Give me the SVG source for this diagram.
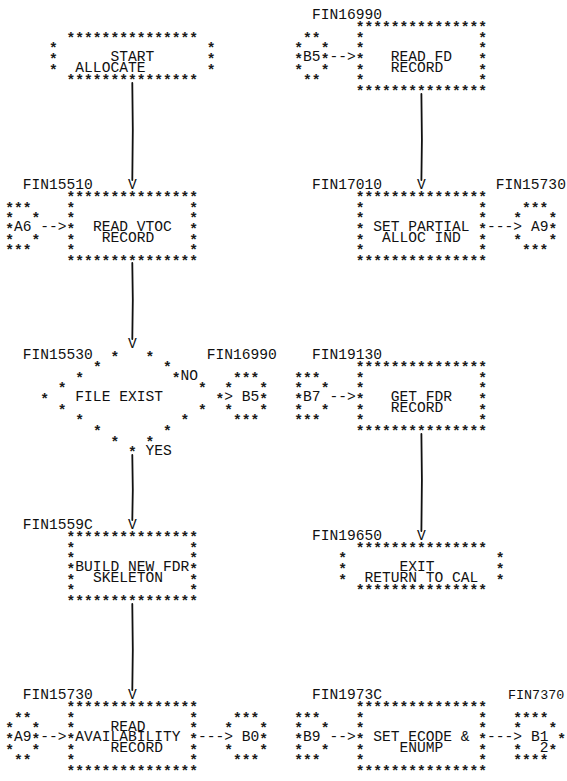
<svg xmlns="http://www.w3.org/2000/svg" width="567" height="781" viewBox="0 0 567 781">
<style>
text{font-family:"Liberation Mono","DejaVu Sans Mono",monospace;font-size:14.6px}
.t{fill:#111}
.s{fill:#1a1a1a;font-weight:bold}
.ln{stroke:#111;stroke-width:1.8;fill:none;stroke-linecap:round}
</style>
<rect width="567" height="781" fill="#fff"/>
<g id="connectors">
<path class="ln" d="M132.3 83 L132.8 130 L132.3 180"/>
<path class="ln" d="M132.3 263 L132.8 300 L132.3 339"/>
<path class="ln" d="M132.3 455 L132.8 490 L132.3 520"/>
<path class="ln" d="M132.3 604 L132.8 650 L132.3 690"/>
<path class="ln" d="M421.4 94 L421.9 140 L421.4 180"/>
<path class="ln" d="M421.4 434 L421.9 480 L421.4 531"/>
<text class="t" x="127.92" y="188.88">V</text>
<text class="t" x="127.92" y="348.25">V</text>
<text class="t" x="127.92" y="528.88">V</text>
<text class="t" x="127.92" y="698.88">V</text>
<text class="t" x="417" y="188.88">V</text>
<text class="t" x="417" y="539.5">V</text>
<text class="t" x="40.32" y="231.38">--&gt;</text>
<text class="t" x="40.32" y="741.38">--&gt;</text>
<text class="t" x="198" y="741.38">---&gt;</text>
<text class="t" x="224.28" y="401.38">&gt;</text>
<text class="t" x="329.4" y="61.38">--&gt;</text>
<text class="t" x="329.4" y="401.38">--&gt;</text>
<text class="t" x="329.4" y="741.38">--&gt;</text>
<text class="t" x="487.08" y="231.38">---&gt;</text>
<text class="t" x="487.08" y="741.38">---&gt;</text>
</g>
<g id="start">
<text class="s" x="66.6" y="42.83">***************</text>
<text class="s" x="49.08" y="53.45">*</text><text class="s" x="206.76" y="53.45">*</text>
<text class="s" x="49.08" y="64.08">*</text><text class="s" x="206.76" y="64.08">*</text>
<text class="s" x="49.08" y="74.7">*</text><text class="s" x="206.76" y="74.7">*</text>
<text class="s" x="66.6" y="85.33">***************</text>
<text class="t" x="110.4" y="61.38">START</text>
<text class="t" x="75.36" y="72">ALLOCATE</text>
</g>
<g id="read_vtoc">
<text class="t" x="22.8" y="188.88">FIN15510</text>
<text class="s" x="66.6" y="202.2">***************</text>
<text class="s" x="66.6" y="212.83">*</text><text class="s" x="189.24" y="212.83">*</text>
<text class="s" x="66.6" y="223.45">*</text><text class="s" x="189.24" y="223.45">*</text>
<text class="s" x="66.6" y="234.08">*</text><text class="s" x="189.24" y="234.08">*</text>
<text class="s" x="66.6" y="244.7">*</text><text class="s" x="189.24" y="244.7">*</text>
<text class="s" x="66.6" y="255.33">*</text><text class="s" x="189.24" y="255.33">*</text>
<text class="s" x="66.6" y="265.95">***************</text>
<text class="t" x="92.88" y="231.38">READ VTOC</text>
<text class="t" x="101.64" y="242">RECORD</text>
</g>
<g id="conn_a6">
<text class="s" x="5.28" y="212.83">***</text>
<text class="s" x="5.28" y="223.45">*</text><text class="s" x="31.56" y="223.45">*</text>
<text class="s" x="5.28" y="234.08">*</text>
<text class="t" x="14.04" y="231.38">A6</text>
<text class="s" x="5.28" y="244.7">*</text><text class="s" x="31.56" y="244.7">*</text>
<text class="s" x="5.28" y="255.33">***</text>
</g>
<g id="file_exist">
<text class="t" x="22.8" y="358.88">FIN15530</text>
<text class="s" x="110.4" y="361.58">*</text><text class="s" x="145.44" y="361.58">*</text>
<text class="s" x="92.88" y="372.2">*</text><text class="s" x="162.96" y="372.2">*</text>
<text class="s" x="75.36" y="382.83">*</text><text class="s" x="171.72" y="382.83">*</text>
<text class="t" x="180.48" y="380.13">NO</text>
<text class="s" x="57.84" y="393.45">*</text><text class="s" x="198" y="393.45">*</text>
<text class="s" x="40.32" y="404.08">*</text><text class="s" x="215.52" y="404.08">*</text>
<text class="t" x="75.36" y="401.38">FILE EXIST</text>
<text class="s" x="57.84" y="414.7">*</text><text class="s" x="198" y="414.7">*</text>
<text class="s" x="75.36" y="425.33">*</text><text class="s" x="180.48" y="425.33">*</text>
<text class="s" x="92.88" y="435.95">*</text><text class="s" x="162.96" y="435.95">*</text>
<text class="s" x="110.4" y="446.58">*</text><text class="s" x="145.44" y="446.58">*</text>
<text class="s" x="127.92" y="457.2">*</text>
<text class="t" x="145.44" y="454.5">YES</text>
</g>
<g id="conn_b5_a">
<text class="t" x="206.76" y="358.88">FIN16990</text>
<text class="s" x="233.04" y="382.83">***</text>
<text class="s" x="224.28" y="393.45">*</text><text class="s" x="259.32" y="393.45">*</text>
<text class="t" x="241.8" y="401.38">B5</text>
<text class="s" x="259.32" y="404.08">*</text>
<text class="s" x="224.28" y="414.7">*</text><text class="s" x="259.32" y="414.7">*</text>
<text class="s" x="233.04" y="425.33">***</text>
</g>
<g id="build_fdr">
<text class="t" x="22.8" y="528.88">FIN1559C</text>
<text class="s" x="66.6" y="542.2">***************</text>
<text class="s" x="66.6" y="552.83">*</text><text class="s" x="189.24" y="552.83">*</text>
<text class="s" x="66.6" y="563.45">*</text><text class="s" x="189.24" y="563.45">*</text>
<text class="s" x="66.6" y="574.08">*</text><text class="s" x="189.24" y="574.08">*</text>
<text class="s" x="66.6" y="584.7">*</text><text class="s" x="189.24" y="584.7">*</text>
<text class="s" x="66.6" y="595.33">*</text><text class="s" x="189.24" y="595.33">*</text>
<text class="s" x="66.6" y="605.95">***************</text>
<text class="t" x="75.36" y="571.38">BUILD NEW FDR</text>
<text class="t" x="92.88" y="582">SKELETON</text>
</g>
<g id="read_avail">
<text class="t" x="22.8" y="698.88">FIN15730</text>
<text class="s" x="66.6" y="712.2">***************</text>
<text class="s" x="66.6" y="722.83">*</text><text class="s" x="189.24" y="722.83">*</text>
<text class="s" x="66.6" y="733.45">*</text><text class="s" x="189.24" y="733.45">*</text>
<text class="s" x="66.6" y="744.08">*</text><text class="s" x="189.24" y="744.08">*</text>
<text class="s" x="66.6" y="754.7">*</text><text class="s" x="189.24" y="754.7">*</text>
<text class="s" x="66.6" y="765.33">*</text><text class="s" x="189.24" y="765.33">*</text>
<text class="s" x="66.6" y="775.95">***************</text>
<text class="t" x="110.4" y="730.75">READ</text>
<text class="t" x="75.36" y="741.38">AVAILABILITY</text>
<text class="t" x="110.4" y="752">RECORD</text>
</g>
<g id="conn_a9_a">
<text class="s" x="14.04" y="722.83">**</text>
<text class="s" x="5.28" y="733.45">*</text><text class="s" x="31.56" y="733.45">*</text>
<text class="s" x="5.28" y="744.08">*</text><text class="s" x="31.56" y="744.08">*</text>
<text class="t" x="14.04" y="741.38">A9</text>
<text class="s" x="5.28" y="754.7">*</text><text class="s" x="31.56" y="754.7">*</text>
<text class="s" x="14.04" y="765.33">**</text>
</g>
<g id="conn_b0">
<text class="s" x="233.04" y="722.83">***</text>
<text class="s" x="224.28" y="733.45">*</text><text class="s" x="259.32" y="733.45">*</text>
<text class="t" x="241.8" y="741.38">B0</text>
<text class="s" x="259.32" y="744.08">*</text>
<text class="s" x="224.28" y="754.7">*</text><text class="s" x="259.32" y="754.7">*</text>
<text class="s" x="233.04" y="765.33">***</text>
</g>
<g id="read_fd">
<text class="t" x="311.88" y="18.88">FIN16990</text>
<text class="s" x="355.68" y="32.2">***************</text>
<text class="s" x="355.68" y="42.83">*</text><text class="s" x="478.32" y="42.83">*</text>
<text class="s" x="355.68" y="53.45">*</text><text class="s" x="478.32" y="53.45">*</text>
<text class="s" x="355.68" y="64.08">*</text><text class="s" x="478.32" y="64.08">*</text>
<text class="s" x="355.68" y="74.7">*</text><text class="s" x="478.32" y="74.7">*</text>
<text class="s" x="355.68" y="85.33">*</text><text class="s" x="478.32" y="85.33">*</text>
<text class="s" x="355.68" y="95.95">***************</text>
<text class="t" x="390.72" y="61.38">READ FD</text>
<text class="t" x="390.72" y="72">RECORD</text>
</g>
<g id="conn_b5_b">
<text class="s" x="303.12" y="42.83">**</text>
<text class="s" x="294.36" y="53.45">*</text><text class="s" x="320.64" y="53.45">*</text>
<text class="s" x="294.36" y="64.08">*</text><text class="s" x="320.64" y="64.08">*</text>
<text class="t" x="303.12" y="61.38">B5</text>
<text class="s" x="294.36" y="74.7">*</text><text class="s" x="320.64" y="74.7">*</text>
<text class="s" x="303.12" y="85.33">**</text>
</g>
<g id="set_partial">
<text class="t" x="311.88" y="188.88">FIN17010</text>
<text class="s" x="355.68" y="202.2">***************</text>
<text class="s" x="355.68" y="212.83">*</text><text class="s" x="478.32" y="212.83">*</text>
<text class="s" x="355.68" y="223.45">*</text><text class="s" x="478.32" y="223.45">*</text>
<text class="s" x="355.68" y="234.08">*</text><text class="s" x="478.32" y="234.08">*</text>
<text class="s" x="355.68" y="244.7">*</text><text class="s" x="478.32" y="244.7">*</text>
<text class="s" x="355.68" y="255.33">*</text><text class="s" x="478.32" y="255.33">*</text>
<text class="s" x="355.68" y="265.95">***************</text>
<text class="t" x="373.2" y="231.38">SET PARTIAL</text>
<text class="t" x="381.96" y="242">ALLOC IND</text>
</g>
<g id="conn_a9_b">
<text class="t" x="495.84" y="188.88">FIN15730</text>
<text class="s" x="522.12" y="212.83">***</text>
<text class="s" x="513.36" y="223.45">*</text><text class="s" x="548.4" y="223.45">*</text>
<text class="t" x="530.88" y="231.38">A9</text>
<text class="s" x="548.4" y="234.08">*</text>
<text class="s" x="513.36" y="244.7">*</text><text class="s" x="548.4" y="244.7">*</text>
<text class="s" x="522.12" y="255.33">***</text>
</g>
<g id="get_fdr">
<text class="t" x="311.88" y="358.88">FIN19130</text>
<text class="s" x="355.68" y="372.2">***************</text>
<text class="s" x="355.68" y="382.83">*</text><text class="s" x="478.32" y="382.83">*</text>
<text class="s" x="355.68" y="393.45">*</text><text class="s" x="478.32" y="393.45">*</text>
<text class="s" x="355.68" y="404.08">*</text><text class="s" x="478.32" y="404.08">*</text>
<text class="s" x="355.68" y="414.7">*</text><text class="s" x="478.32" y="414.7">*</text>
<text class="s" x="355.68" y="425.33">*</text><text class="s" x="478.32" y="425.33">*</text>
<text class="s" x="355.68" y="435.95">***************</text>
<text class="t" x="390.72" y="401.38">GET FDR</text>
<text class="t" x="390.72" y="412">RECORD</text>
</g>
<g id="conn_b7">
<text class="s" x="294.36" y="382.83">***</text>
<text class="s" x="294.36" y="393.45">*</text><text class="s" x="320.64" y="393.45">*</text>
<text class="s" x="294.36" y="404.08">*</text>
<text class="t" x="303.12" y="401.38">B7</text>
<text class="s" x="294.36" y="414.7">*</text><text class="s" x="320.64" y="414.7">*</text>
<text class="s" x="294.36" y="425.33">***</text>
</g>
<g id="exit">
<text class="t" x="311.88" y="539.5">FIN19650</text>
<text class="s" x="355.68" y="552.83">***************</text>
<text class="s" x="338.16" y="563.45">*</text><text class="s" x="495.84" y="563.45">*</text>
<text class="s" x="338.16" y="574.08">*</text><text class="s" x="495.84" y="574.08">*</text>
<text class="s" x="338.16" y="584.7">*</text><text class="s" x="495.84" y="584.7">*</text>
<text class="s" x="355.68" y="595.33">***************</text>
<text class="t" x="399.48" y="571.38">EXIT</text>
<text class="t" x="364.44" y="582">RETURN TO CAL</text>
</g>
<g id="set_ecode">
<text class="t" x="311.88" y="698.88">FIN1973C</text>
<text class="s" x="355.68" y="712.2">***************</text>
<text class="s" x="355.68" y="722.83">*</text><text class="s" x="478.32" y="722.83">*</text>
<text class="s" x="355.68" y="733.45">*</text><text class="s" x="478.32" y="733.45">*</text>
<text class="s" x="355.68" y="744.08">*</text><text class="s" x="478.32" y="744.08">*</text>
<text class="s" x="355.68" y="754.7">*</text><text class="s" x="478.32" y="754.7">*</text>
<text class="s" x="355.68" y="765.33">*</text><text class="s" x="478.32" y="765.33">*</text>
<text class="s" x="355.68" y="775.95">***************</text>
<text class="t" x="373.2" y="741.38">SET ECODE &amp;</text>
<text class="t" x="399.48" y="752">ENUMP</text>
</g>
<g id="conn_b9">
<text class="s" x="294.36" y="722.83">***</text>
<text class="s" x="294.36" y="733.45">*</text><text class="s" x="320.64" y="733.45">*</text>
<text class="s" x="294.36" y="744.08">*</text>
<text class="t" x="303.12" y="741.38">B9</text>
<text class="s" x="294.36" y="754.7">*</text><text class="s" x="320.64" y="754.7">*</text>
<text class="s" x="294.36" y="765.33">***</text>
</g>
<g id="conn_b12">
<text class="t" x="508" y="698.88" style="font-size:13.4px">FIN7370</text>
<text class="s" x="513.36" y="722.83">****</text>
<text class="s" x="513.36" y="733.45">*</text><text class="s" x="548.4" y="733.45">*</text>
<text class="t" x="530.88" y="741.38">B1</text>
<text class="s" x="557.16" y="744.08">*</text>
<text class="s" x="513.36" y="754.7">*</text><text class="s" x="548.4" y="754.7">*</text>
<text class="t" x="539.64" y="752">2</text>
<text class="s" x="513.36" y="765.33">****</text>
</g>
</svg>
